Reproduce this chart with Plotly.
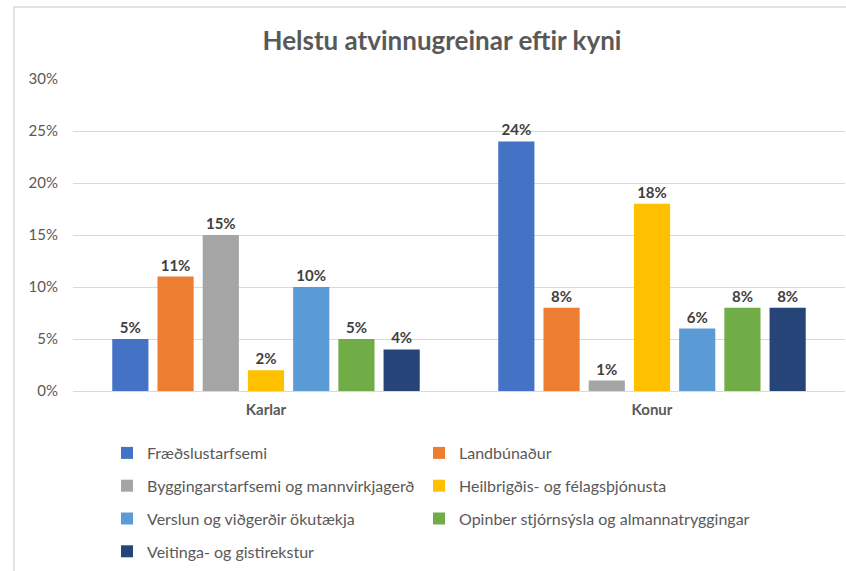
import plotly.graph_objects as go

categories = ["Karlar", "Konur"]
series_names = [
    "Fræðslustarfsemi",
    "Landbúnaður",
    "Byggingarstarfsemi og mannvirkjagerð",
    "Heilbrigðis- og félagsþjónusta",
    "Verslun og viðgerðir ökutækja",
    "Opinber stjórnsýsla og almannatryggingar",
    "Veitinga- og gistirekstur",
]
fraedsla = [0.05, 0.24]
landbunadur = [0.11, 0.08]
bygging = [0.15, 0.01]
heilbrigdi = [0.02, 0.18]
verslun = [0.10, 0.06]
opinber = [0.05, 0.08]
veitinga = [0.04, 0.08]
series_values = [fraedsla, landbunadur, bygging, heilbrigdi, verslun, opinber, veitinga]
colors = ["#4472C4", "#ED7D31", "#A5A5A5", "#FFC000", "#5B9BD5", "#70AD47", "#264478"]
tick_vals = [0, 0.05, 0.10, 0.15, 0.20, 0.25, 0.30]
tick_text = ["0%", "5%", "10%", "15%", "20%", "25%", "30%"]

FONT = "Lato"
fig = go.Figure()
for i, (name, vals, col) in enumerate(zip(series_names, series_values, colors)):
    fig.add_trace(go.Bar(
        x=categories, y=vals, name=name,
        marker=dict(color=col, line=dict(width=0)),
        text=[f"{round(v*100)}%" for v in vals],
        textposition="outside",
        textfont=dict(family=FONT, size=15, color="#404040", weight="bold"),
        cliponaxis=False,
        legend="legend" if i % 2 == 0 else "legend2",
        legendgroup=f"g{i}",
        hoverinfo="skip",
    ))

W, H = 846, 571
ml, mr, mt, mb = 73, 1, 79, 180
pw = W - ml - mr
ph = H - mt - mb

def px_x(x):
    return (x - ml) / pw

def px_y(y):
    return (H - mb - y) / ph

legend_common = dict(
    orientation="v", traceorder="grouped", tracegroupgap=9,
    font=dict(family=FONT, size=16, color="#595959"),
    bgcolor="rgba(0,0,0,0)", xanchor="left", yanchor="top",
    itemclick=False, itemdoubleclick=False,
)

fig.update_layout(
    width=W, height=H, autosize=False,
    margin=dict(l=ml, r=mr, t=mt, b=mb, pad=0, autoexpand=False),
    paper_bgcolor="white", plot_bgcolor="white",
    title=dict(text="Helstu atvinnugreinar eftir kyni", x=px_x(442), xanchor="center",
               xref="paper",
               y=1 - 41 / H, yanchor="middle",
               font=dict(family=FONT, size=26, color="#595959", weight="bold")),
    barmode="group", bargap=0.18, bargroupgap=0.2,
    showlegend=True,
    legend=dict(x=px_x(107), y=px_y(436), **legend_common),
    legend2=dict(x=px_x(419), y=px_y(436), **legend_common),
    xaxis=dict(showgrid=False, showline=False, ticks="",
               tickfont=dict(family=FONT, size=15, color="#595959", weight="bold"),
               ticklabelstandoff=8),
    yaxis=dict(range=[0, 0.30], tickvals=tick_vals, ticktext=tick_text,
               showgrid=True, gridcolor="#D9D9D9", gridwidth=1,
               zeroline=True, zerolinecolor="#D9D9D9", zerolinewidth=1,
               showline=False, ticks="",
               tickfont=dict(family=FONT, size=15, color="#595959"),
               ticklabelstandoff=14),
    shapes=[dict(type="rect", xref="paper", yref="paper",
                 x0=px_x(14), x1=px_x(860), y0=px_y(600), y1=px_y(7),
                 line=dict(color="#D9D9D9", width=1.5), fillcolor="rgba(0,0,0,0)",
                 layer="below")],
)

fig.write_html(
    "out.html",
    config={"displayModeBar": False},
    post_script="document.body.style.margin='0';document.body.style.overflow='hidden';",
)
